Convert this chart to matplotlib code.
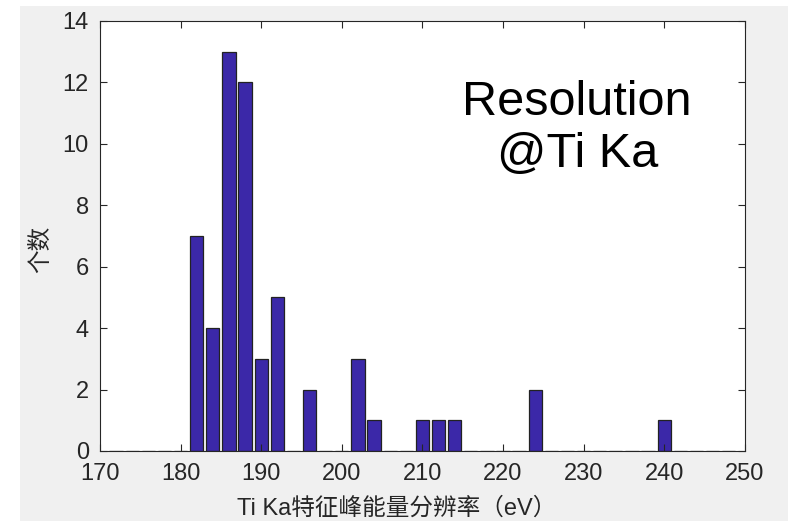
import matplotlib.pyplot as plt
from matplotlib.patches import Rectangle

# bin centres (eV) and counts
centers = list(range(172, 250, 2))
counts_at = {182: 7, 184: 4, 186: 13, 188: 12, 190: 3, 192: 5, 196: 2,
             202: 3, 204: 1, 210: 1, 212: 1, 214: 1, 224: 2, 240: 1}
counts = [counts_at.get(c, 0) for c in centers]

xticks = list(range(170, 251, 10))
yticks = list(range(0, 15, 2))

plt.rcParams['font.family'] = ['Liberation Sans', 'Noto Sans CJK SC', 'DejaVu Sans']

fig = plt.figure(figsize=(8, 5.21), dpi=100, facecolor='white')
# grey MATLAB-like figure panel
fig.patches.append(Rectangle((20 / 800, 0), 768 / 800, 1 - 6 / 521,
                             transform=fig.transFigure, facecolor='#f0f0f0',
                             edgecolor='none', zorder=-10))
ax = fig.add_axes([0.125, 0.1344, 0.806, 0.8253])

ax.bar(centers, counts, width=1.65, color='#3b28a8', edgecolor='#222222',
       linewidth=0.9)

ax.set_xlim(170, 250)
ax.set_ylim(0, 14)
ax.set_xticks(xticks)
ax.set_yticks(yticks)
ax.tick_params(direction='in', top=True, right=True, labelsize=17,
               colors='#262626', length=5, width=0.8)
ax.tick_params(axis='x', pad=9)
ax.tick_params(axis='y', pad=8)
for s in ax.spines.values():
    s.set_color('#262626')
    s.set_linewidth(0.8)

ax.set_xlabel('Ti Ka特征峰能量分辨率（eV）', fontsize=17, color='#262626')
ax.xaxis.set_label_coords(0.46, -0.108)
ax.set_ylabel('个数', fontsize=17, color='#262626', labelpad=7)
ax.yaxis.set_label_coords(-0.075, 0.47)

ax.text(0.74, 0.749, 'Resolution\n@Ti Ka', transform=ax.transAxes,
        ha='center', va='center', fontsize=35, linespacing=1.2, color='black')

fig.savefig('out.png', dpi=100)
